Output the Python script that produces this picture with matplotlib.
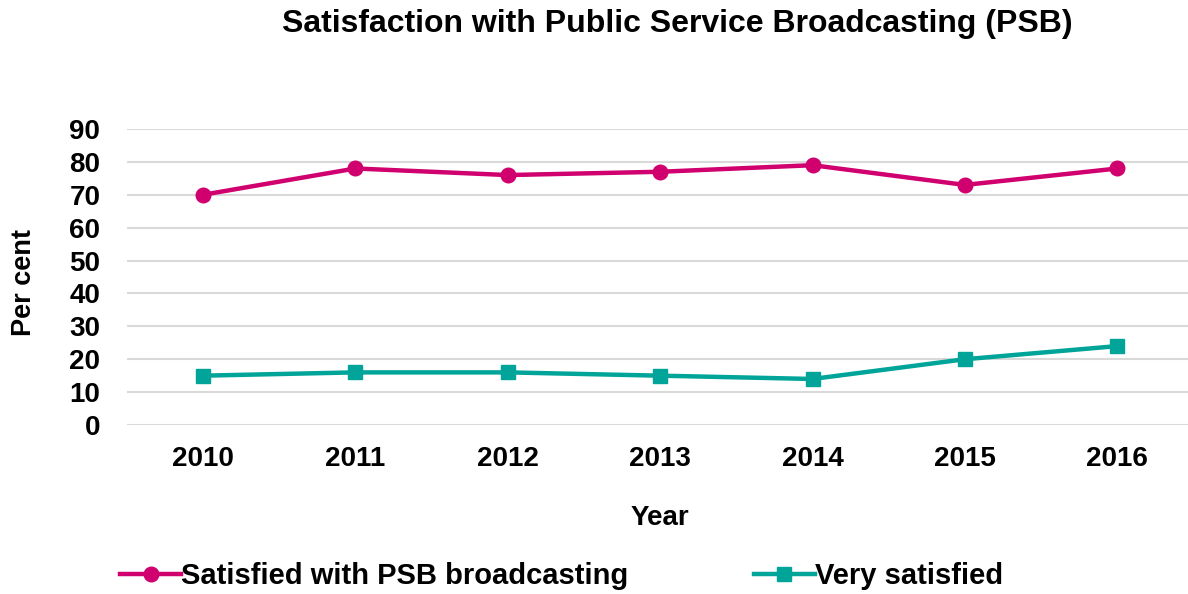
import matplotlib.pyplot as plt

years = ['2010', '2011', '2012', '2013', '2014', '2015', '2016']
satisfied = [70, 78, 76, 77, 79, 73, 78]
very_satisfied = [15, 16, 16, 15, 14, 20, 24]

plt.rcParams['font.family'] = ['Liberation Sans', 'DejaVu Sans']
plt.rcParams['font.weight'] = 'bold'

fig = plt.figure(figsize=(11.88, 5.94), dpi=100)
ax = fig.add_axes([0.1067, 0.2845, 0.898, 0.4983])

x = range(len(years))
ax.plot(x, satisfied, color='#D0006F', lw=3.2, marker='o', ms=10.5,
        label='Satisfied with PSB broadcasting')
ax.plot(x, very_satisfied, color='#00A499', lw=3.2, marker='s', ms=10.5,
        label='Very satisfied')

ax.set_xlim(-0.5, 6.5)
ax.set_ylim(0, 90)
ax.set_yticks(range(0, 91, 10))
ax.set_xticks(list(x))
ax.set_xticklabels(years)
ax.grid(axis='y', color='#D9D9D9', lw=1.5)
ax.set_axisbelow(True)
for s in ax.spines.values():
    s.set_visible(False)
ax.tick_params(length=0, labelsize=20)
ax.tick_params(axis='x', pad=15)
ax.tick_params(axis='y', pad=19)

ax.set_xlabel('Year', fontsize=20, fontweight='bold', labelpad=24)
ax.set_ylabel('Per cent', fontsize=19.5, fontweight='bold')
ax.yaxis.set_label_coords(-0.084, 0.483)
fig.suptitle('Satisfaction with Public Service Broadcasting (PSB)',
             x=0.57, y=0.985, fontsize=23, fontweight='bold')

fig.legend(loc='center', bbox_to_anchor=(0.4727, 0.03), ncol=2, frameon=False,
           fontsize=21, handlelength=2.1, handletextpad=0.0,
           columnspacing=4.3)

fig.savefig('out.png', dpi=100)
